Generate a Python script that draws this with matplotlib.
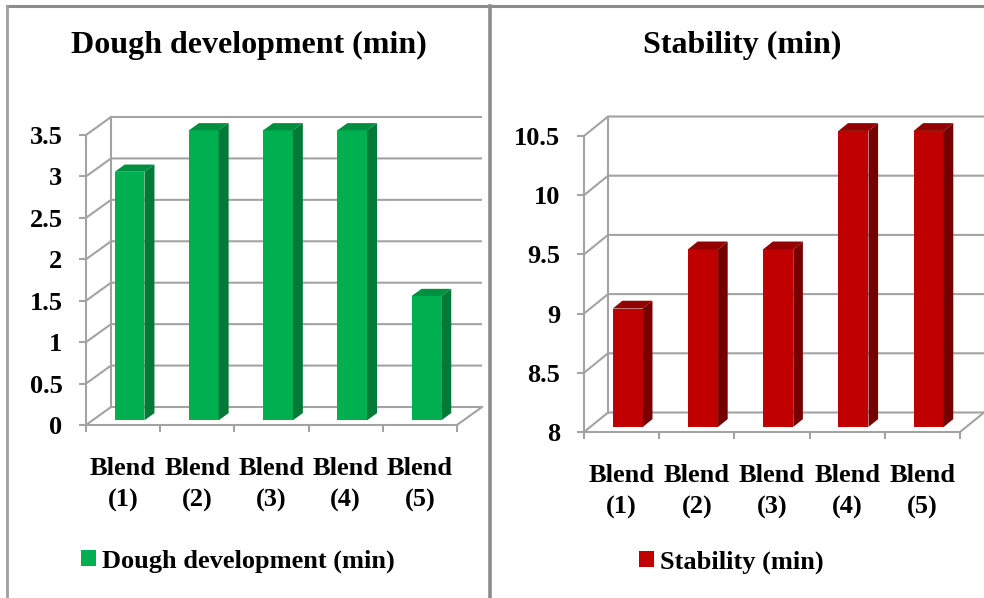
import matplotlib
matplotlib.use("Agg")
import matplotlib.pyplot as plt
from matplotlib.patches import Polygon, Patch
from matplotlib.lines import Line2D
from matplotlib import ticker

# ---- data -------------------------------------------------------------
blends = ["Blend\n(1)", "Blend\n(2)", "Blend\n(3)", "Blend\n(4)", "Blend\n(5)"]
dough_development = [3.0, 3.5, 3.5, 3.5, 1.5]
stability = [9.0, 9.5, 9.5, 10.5, 10.5]

dough_ticks = [0, 0.5, 1, 1.5, 2, 2.5, 3, 3.5]
stability_ticks = [8, 8.5, 9, 9.5, 10, 10.5]

# ---- style ------------------------------------------------------------
W, H = 984, 598
FONT = "Liberation Serif"
GRID = "#A3A3A3"
FRAME = "#8C8C8C"
GREEN = ("#00B050", "#007A36", "#008F40")   # front, side, top
RED = ("#C00000", "#760000", "#940000")

plt.rcParams["font.family"] = [FONT, "DejaVu Serif"]
plt.rcParams["font.weight"] = "bold"

fig = plt.figure(figsize=(W / 100, H / 100), dpi=100)
fig.patch.set_facecolor("white")


def draw_panel(values, ymin, ymax, yticks, colors, title, title_x, legend_label,
               legend_xy, fx0, fx1, fy0, fy1, dxp, dyp, xlab_pad):
    n = len(values)
    sx = (fx1 - fx0) / n
    sy = (fy0 - fy1) / (ymax - ymin)
    kx, ky = dxp / sx, dyp / sy          # depth offset in data units
    left, right = fx0, fx1 + dxp
    top, bottom = fy1 - dyp, fy0
    ax = fig.add_axes([left / W, 1 - bottom / H, (right - left) / W, (bottom - top) / H])
    ax.set_xlim(0, n + kx)
    ax.set_ylim(ymin, ymax + ky)
    ax.patch.set_visible(False)

    # walls: side-wall diagonals and back-wall gridlines
    for v in yticks:
        ax.plot([0, kx, n + kx], [v, v + ky, v + ky], color=GRID, lw=1.5,
                clip_on=False, zorder=1, solid_capstyle="butt")
    ax.plot([kx, kx], [ymin + ky, ymax + ky], color=GRID, lw=1.5, clip_on=False, zorder=1)
    ax.plot([n, n + kx], [ymin, ymin + ky], color=GRID, lw=1.5, clip_on=False, zorder=1)

    # 3-D bars
    bw, d0, d1 = 0.4, 0.26, 0.66
    front, side, topc = colors
    for i, v in enumerate(values):
        xc = i + 0.5
        xl, xr = xc - bw / 2, xc + bw / 2
        ax.bar(xc + d0 * kx, v - ymin, bottom=ymin + d0 * ky, width=bw,
               color=front, zorder=3, linewidth=0)
        ax.add_patch(Polygon([(xr + d0 * kx, ymin + d0 * ky), (xr + d1 * kx, ymin + d1 * ky),
                              (xr + d1 * kx, v + d1 * ky), (xr + d0 * kx, v + d0 * ky)],
                             closed=True, facecolor=side, edgecolor="none", zorder=3))
        ax.add_patch(Polygon([(xl + d0 * kx, v + d0 * ky), (xr + d0 * kx, v + d0 * ky),
                              (xr + d1 * kx, v + d1 * ky), (xl + d1 * kx, v + d1 * ky)],
                             closed=True, facecolor=topc, edgecolor="none", zorder=3))

    # front axes
    for s in ("top", "right"):
        ax.spines[s].set_visible(False)
    ax.spines["left"].set_bounds(ymin, ymax)
    ax.spines["bottom"].set_bounds(0, n)
    for s in ("left", "bottom"):
        ax.spines[s].set_color(GRID)
        ax.spines[s].set_linewidth(1.5)

    ax.set_yticks(yticks)
    ax.yaxis.set_major_formatter(ticker.FormatStrFormatter("%g"))
    ax.tick_params(axis="y", direction="out", length=5, width=1.5, color=GRID,
                   pad=12, labelsize=19, labelcolor="black")
    ax.set_xticks(range(n + 1))
    ax.set_xticklabels([])
    ax.set_xticks([i + 0.5 for i in range(n)], minor=True)
    ax.set_xticklabels(blends, minor=True, fontsize=19)
    ax.tick_params(axis="x", which="major", direction="out", length=5, width=1.5, color=GRID)
    ax.tick_params(axis="x", which="minor", length=0, pad=xlab_pad, labelcolor="black")
    for lab in ax.get_yticklabels() + ax.get_xticklabels(minor=True):
        lab.set_fontweight("bold")
    for lab in ax.get_xticklabels(minor=True):
        lab.set_linespacing(1.5)

    fig.text(title_x / W, 1 - 45 / H, title, ha="center", va="center",
             fontsize=23, fontweight="bold")

    ax.legend(handles=[Patch(facecolor=front, edgecolor="none")], labels=[legend_label],
              loc="center left", bbox_to_anchor=(legend_xy[0] / W, 1 - legend_xy[1] / H),
              bbox_transform=fig.transFigure, frameon=False, borderpad=0, borderaxespad=0,
              handlelength=0.55, handleheight=0.55, handletextpad=0.25,
              prop={"family": FONT, "weight": "bold", "size": 19})
    return ax


draw_panel(dough_development, 0, 3.5, dough_ticks, GREEN, "Dough development (min)", 249,
           "Dough development (min)", (81, 561), 86, 457, 425, 135, 25, 18, 23)
draw_panel(stability, 8, 10.5, stability_ticks, RED, "Stability (min)", 742,
           "Stability (min)", (639, 562), 584, 960, 432, 136, 24, 19.5, 23)

# panel frames
fig.add_artist(Line2D([7 / W, 1], [1 - 6 / H, 1 - 6 / H], transform=fig.transFigure,
                      color=FRAME, lw=2.2))
fig.add_artist(Line2D([7 / W, 7 / W], [0, 1 - 6 / H], transform=fig.transFigure,
                      color="#A0A0A0", lw=2.0))
fig.add_artist(Line2D([490 / W, 490 / W], [0, 1 - 6 / H], transform=fig.transFigure,
                      color=FRAME, lw=2.6))

fig.savefig("out.png", dpi=100)
